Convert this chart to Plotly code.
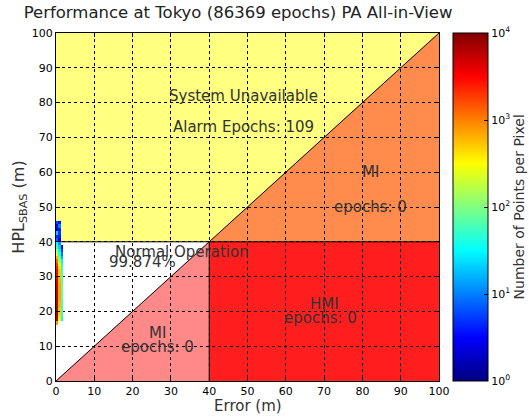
import numpy as np
import plotly.graph_objects as go

# ---- data ----
TITLE = "Performance at Tokyo (86369 epochs) PA All-in-View"
X_TITLE = "Error (m)"
Y_TITLE = "HPL<sub>SBAS</sub> (m)"
CBAR_TITLE = "Number of Points per Pixel"
ALARM_LIMIT = 40
AXIS_MAX = 100
axis_ticks = [0, 10, 20, 30, 40, 50, 60, 70, 80, 90, 100]

# 2-D histogram bins (error, HPL) and counts per pixel
error_bins = [0.3, 0.9, 1.5]
hpl_bins = [16.5, 17.5, 18.5, 19.5, 20.5, 21.5, 22.5, 23.5, 24.5, 25.5,
            26.5, 27.5, 28.5, 29.5, 30.5, 31.5, 32.5, 33.5, 34.5, 35.5,
            36.5, 37.5, 38.5, 39.5, 40.5, 41.5, 42.5, 43.5, 44.5, 45.5]
counts_col0 = [800, 6000, 7500, 7000, 7000, 6500, 6000, 6000, 5500, 5500,
               5000, 5000, 4500, 4000, 3500, 3000, 2500, 2000, 1200, 600,
               250, 150, 60, 30, 8, 5, 20, 2, 3, 6]
counts_col1 = [0, 300, 400, 500, 500, 600, 600, 700, 700, 700,
               700, 700, 600, 600, 500, 500, 400, 300, 150, 80,
               40, 30, 20, 12, 3, 4, 5, 4, 10, 4]
counts_col2 = [0, 30, 40, 50, 50, 60, 60, 70, 70, 80,
               80, 80, 70, 70, 60, 60, 50, 40, 30, 15,
               8, 5, 3, 0, 0, 0, 0, 0, 0, 0]

cbar_tickvals = [0, 1, 2, 3, 4]
cbar_ticktext = ["10<sup>0</sup>", "10<sup>1</sup>", "10<sup>2</sup>",
                 "10<sup>3</sup>", "10<sup>4</sup>"]

region_labels = [
    ("System Unavailable", 49, 82),
    ("Alarm Epochs: 109", 49, 73),
    ("MI", 82, 60),
    ("epochs: 0", 82, 50),
    ("Normal Operation", 33, 37),
    ("99.874%", 22.5, 34.2),
    ("HMI", 70, 22),
    ("epochs: 0", 69, 18),
    ("MI", 26.5, 13.8),
    ("epochs: 0", 26.5, 9.8),
]

# ---- build ----
counts = np.array([counts_col0, counts_col1, counts_col2], dtype=float).T
with np.errstate(divide="ignore"):
    z = np.where(counts > 0, np.log10(np.where(counts > 0, counts, 1)), np.nan)

jet = [[0.0, "rgb(0,0,128)"], [0.125, "rgb(0,0,255)"], [0.375, "rgb(0,255,255)"],
       [0.625, "rgb(255,255,0)"], [0.875, "rgb(255,0,0)"], [1.0, "rgb(128,0,0)"]]

fig = go.Figure()
fig.add_trace(go.Heatmap(
    x=error_bins, y=hpl_bins, z=z, zmin=0, zmax=4, colorscale=jet,
    showscale=True, hoverongaps=False,
    colorbar=dict(
        x=1.037, xanchor="left", xref="paper", y=0.5, yanchor="middle",
        len=1.0, lenmode="fraction", thickness=35, thicknessmode="pixels",
        xpad=0, ypad=0,
        tickvals=cbar_tickvals, ticktext=cbar_ticktext,
        ticks="inside", ticklen=4, tickcolor="black",
        tickfont=dict(family="DejaVu Sans", size=11, color="black"),
        outlinecolor="black", outlinewidth=1,
    ),
))

AL, M = ALARM_LIMIT, AXIS_MAX

def poly(pts):
    return "M " + " L ".join(f"{a},{b}" for a, b in pts) + " Z"

regions = [
    ([(0, AL), (0, M), (M, M), (AL, AL)], "#FFFF80"),   # system unavailable
    ([(AL, AL), (M, M), (M, AL)], "#FF8C4C"),           # MI (unavailable)
    ([(AL, 0), (AL, AL), (M, AL), (M, 0)], "#FF1E1E"),  # HMI
    ([(0, 0), (AL, AL), (AL, 0)], "#FF8888"),           # MI
]
for pts, col in regions:
    fig.add_shape(type="path", path=poly(pts), xref="x", yref="y",
                  fillcolor=col, line=dict(width=0), layer="below")

for (x0, y0, x1, y1) in [(0, 0, M, M), (0, AL, M, AL), (AL, 0, AL, AL)]:
    fig.add_shape(type="line", x0=x0, y0=y0, x1=x1, y1=y1, xref="x", yref="y",
                  line=dict(color="black", width=1), layer="below")

for txt, xx, yy in region_labels:
    fig.add_annotation(x=xx, y=yy, xref="x", yref="y", text=txt, showarrow=False,
                       font=dict(family="DejaVu Sans", size=15, color="#333"))

# axis titles placed close to the axes
fig.add_annotation(x=0.5, y=-0.043, xref="paper", yref="paper", text=X_TITLE,
                   showarrow=False, xanchor="center", yanchor="top",
                   borderpad=0,
                   font=dict(family="DejaVu Sans", size=15, color="#333"))
fig.add_annotation(x=1.21, y=0.5, xref="paper", yref="paper", text=CBAR_TITLE,
                   showarrow=False, xanchor="center", yanchor="middle",
                   textangle=-90, borderpad=0,
                   font=dict(family="DejaVu Sans", size=14, color="#333"))

axis_common = dict(
    range=[0, M], tickvals=axis_ticks, showgrid=True, gridcolor="black",
    griddash="3px,3px", gridwidth=1, zeroline=False, showline=True,
    linecolor="black", linewidth=1, mirror="ticks", ticks="inside", ticklen=4,
    tickcolor="black", tickfont=dict(family="DejaVu Sans", size=11, color="black"),
    automargin=False,
)
fig.update_xaxes(**axis_common)
fig.update_yaxes(**axis_common,
                 title=dict(text=Y_TITLE, standoff=3,
                            font=dict(family="DejaVu Sans", size=16, color="#333")))

fig.update_layout(
    width=529, height=418,
    margin=dict(l=56, r=90, t=33, b=37, autoexpand=False),
    paper_bgcolor="white", plot_bgcolor="white",
    title=dict(text=TITLE, x=0.45, xanchor="center", y=0.985, yanchor="top",
               font=dict(family="DejaVu Sans", size=16.5, color="#222")),
    showlegend=False,
)

fig.write_html("out.html",
               config={"displayModeBar": False},
               post_script="document.body.style.margin='0';"
                           "document.body.style.overflow='hidden';")
